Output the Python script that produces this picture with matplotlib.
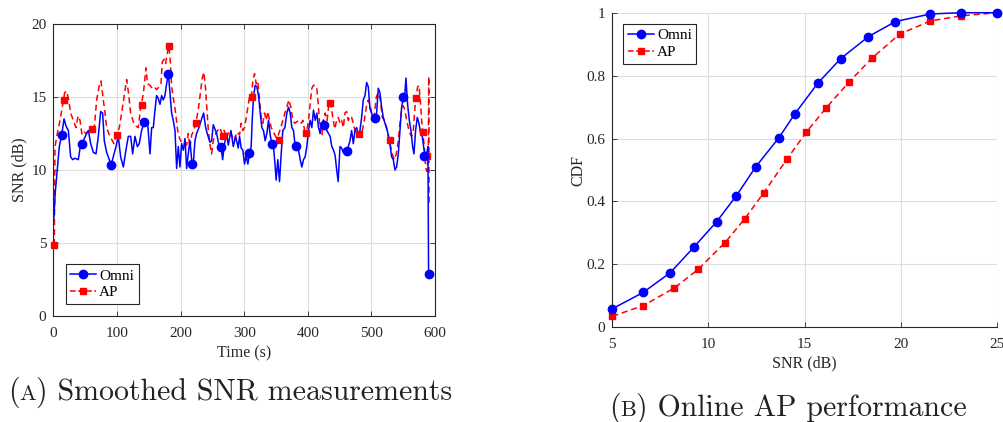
import matplotlib
matplotlib.use("Agg")
import matplotlib.pyplot as plt
from matplotlib.lines import Line2D
from matplotlib.offsetbox import TextArea, HPacker, AnchoredOffsetbox

# ---- (A) smoothed SNR time series ----
omni_t = [0.5, 3, 6, 9.3, 13, 16.7, 19.8, 23.5, 27.1, 30.3, 34, 39.2, 42.9, 47, 51.2, 55, 58.6,
          62.8, 67, 70.6, 74.3, 77.4, 80, 83.7, 87.9, 90.5, 94.2, 98.4, 102, 105.7, 110, 114,
          117.8, 121.5, 124.6, 128.3, 132, 135, 138.7, 143, 148.2, 151.9, 154.5, 157.1, 159.7,
          162.3, 165, 167.6, 170.2, 172.8, 175.4, 178, 180.7, 183.3, 185.9, 188.5, 191.2, 193.8,
          196.4, 199, 201.6, 204.3, 206.9, 209.5, 212.1, 214.7, 217.4, 220, 222.6, 225.2, 228.9,
          233.1, 236.2, 239.4, 242.5, 246.2, 248.8, 251.4, 254, 256.7, 260.3, 263.5, 266.1, 268.7,
          272.4, 275, 279.2, 282.9, 286.5, 290.7, 292.7, 295.3, 297.9, 300.6, 303.2, 305.8, 308.4,
          311, 312.6, 314.7, 317.3, 320, 322.6, 325.2, 327.8, 330.4, 333, 335.7, 338.3, 340.9,
          343.5, 346.2, 348.2, 350.3, 352.9, 355.6, 358.2, 360.8, 364, 367.1, 369.7, 372.4, 375,
          377.6, 380.2, 382.8, 385.5, 388.1, 390.7, 393.3, 395.9, 398.5, 401.2, 403.8, 406.4, 409,
          411.7, 414.3, 416.9, 419.5, 422.1, 424.7, 427.4, 430, 432.6, 435.2, 437.8, 440.5, 443,
          445.5, 447.8, 450.7, 453.3, 455.9, 458.5, 461.1, 463.8, 466.4, 469, 471.6, 474.2, 476.9,
          479.5, 482.1, 484.7, 487.3, 490, 492.6, 495.2, 497.8, 500.4, 503, 505.7, 508.3, 510.9,
          513.5, 516.2, 518.8, 521.4, 524, 526.6, 529.3, 531.9, 534.5, 537.1, 539.7, 542.4, 545,
          547.6, 550.2, 552.8, 554.4, 557, 559.7, 562.3, 564.9, 567, 569.6, 572.2, 574.9, 577.5,
          580.1, 582.2, 584.3, 586.9, 589, 590]
omni_snr = [6.6, 8.5, 10.0, 11.6, 12.4, 13.5, 13.0, 12.7, 10.9, 10.7, 10.8, 10.7, 11.8, 12.0, 12.4,
            12.7, 11.8, 11.2, 11.1, 12.3, 14.0, 13.9, 12.0, 11.2, 10.7, 10.3, 10.9, 11.6, 12.3, 10.9,
            10.2, 11.35, 12.3, 12.3, 11.1, 12.3, 11.6, 11.8, 12.7, 13.3, 13.2, 11.1, 12.9, 12.9, 14.1,
            15.1, 14.9, 14.5, 15.1, 14.8, 15.1, 15.9, 16.6, 15.3, 13.9, 13.4, 12.7, 10.1, 11.6, 10.2,
            11.8, 11.35, 12.15, 10.1, 11.1, 12.0, 10.7, 10.4, 12.0, 12.5, 12.9, 13.5, 13.9, 12.9,
            12.4, 11.9, 12.0, 13.1, 12.8, 12.5, 11.7, 11.6, 10.7, 11.7, 12.5, 11.7, 12.7, 11.6, 12.3,
            11.5, 12.3, 11.5, 11.35, 10.4, 11.0, 10.4, 11.1, 11.6, 13.4, 15.0, 15.8, 15.7, 15.1, 13.9,
            12.9, 12.7, 12.0, 12.5, 13.4, 12.4, 11.8, 11.5, 10.55, 9.3, 10.7, 9.2, 11.1, 12.7, 12.9,
            13.9, 14.3, 13.9, 12.9, 12.7, 11.6, 11.7, 11.35, 10.7, 10.2, 10.7, 10.9, 11.6, 12.7, 13.4,
            12.9, 14.1, 13.4, 13.9, 12.9, 12.5, 13.1, 13.4, 13.2, 12.7, 12.5, 12.3, 11.6, 11.35, 11.0,
            10.0, 9.2, 11.6, 11.5, 11.2, 11.35, 11.2, 11.6, 12.0, 12.7, 11.8, 12.7, 12.9, 12.4, 12.7,
            13.6, 14.8, 15.1, 16.0, 15.7, 14.2, 13.9, 13.4, 13.6, 13.9, 15.6, 15.3, 14.3, 13.6, 13.2,
            12.9, 12.4, 11.8, 10.9, 10.7, 10.0, 10.2, 11.1, 12.7, 14.3, 14.9, 15.3, 16.3, 14.5, 13.4,
            12.7, 11.6, 11.1, 12.7, 13.6, 13.2, 12.5, 12.3, 11.6, 11.0, 11.1, 11.6, 2.86]
omni_mk_t = [13, 44.5, 90, 142.5, 180.7, 218, 263.5, 308, 343.7, 382, 425, 462, 505, 550, 583, 590]
omni_mk_snr = [12.38, 11.76, 10.34, 13.29, 16.58, 10.39, 11.54, 11.14, 11.8, 11.62, 13.1, 11.3,
               13.56, 14.98, 10.96, 2.86]

ap_t = [1.4, 2.5, 6.2, 10.4, 14.6, 17.7, 20.9, 24, 27.1, 31.3, 35.5, 38.7, 41.8, 45, 48.1, 51.2,
        55.4, 60, 64.3, 68, 72.2, 74.8, 77.4, 81.1, 83.7, 87.9, 91.6, 95.2, 99.4, 103.6, 107.3, 111,
        115.2, 118.3, 121.5, 125.6, 129.8, 133.5, 137.2, 141.4, 145.5, 148, 151.9, 155.5, 158.7,
        162.3, 166, 169.2, 171.2, 174.4, 176.5, 179.6, 181.7, 183.8, 185.9, 189.1, 192.2, 195.4,
        198.5, 201.6, 205.8, 209.5, 212.1, 214.7, 217.4, 221, 224.2, 227.8, 231, 234.1, 236.7,
        239.4, 241.5, 243.6, 246.7, 248.8, 251.4, 254, 258.2, 261.9, 265.6, 268.7, 272.4, 276,
        280.2, 284.4, 288.6, 292.7, 295.3, 297.9, 300.6, 303.2, 305.8, 308.4, 311, 313.7, 316.3,
        318.9, 321.5, 324.1, 326.8, 329.4, 332, 334.6, 337.2, 339.9, 342.5, 345.1, 348.2, 351.4,
        354.5, 357.7, 360.8, 364, 367.1, 370.3, 373.4, 376.5, 379.7, 382.8, 385.9, 389.6, 392.3,
        395.4, 398.5, 401.2, 403.8, 406.4, 409, 411.7, 414.3, 416.9, 419.5, 422.1, 424.7, 427.4,
        430.5, 433.1, 435.7, 439.4, 442.5, 445.4, 448, 450.7, 453.3, 455.9, 458.5, 461.1, 463.8,
        466.4, 469, 471.6, 474.2, 476.9, 479.5, 482.6, 485.8, 489, 492, 495.2, 498.3, 501.5, 504.6,
        507.8, 510.9, 514.1, 517.2, 520.4, 523.5, 526.6, 529.8, 532.9, 536.1, 539.2, 542.4, 545.5,
        547.6, 550.2, 552.8, 555.5, 558.1, 560.7, 563.3, 566, 568.6, 570.7, 572.8, 574.9, 577,
        579.1, 581.1, 583.2, 585.3, 587.4, 589.5, 590.3, 590.8]
ap_snr = [4.84, 11.6, 12.5, 13.4, 14.5, 15.3, 15.4, 14.8, 13.9, 13.4, 12.9, 13.7, 13.4, 12.4, 12.6,
          12.5, 12.7, 12.8, 12.9, 14.8, 15.8, 16.1, 15.2, 13.9, 12.9, 12.4, 12.1, 11.8, 12.4, 12.9,
          13.9, 15.0, 16.2, 15.2, 13.9, 13.3, 13.0, 12.9, 14.3, 15.2, 17.0, 15.9, 15.8, 15.6, 15.7,
          15.5, 15.7, 15.9, 17.4, 17.6, 17.3, 18.1, 18.5, 17.5, 15.7, 14.8, 13.9, 12.7, 12.15, 11.9,
          11.9, 11.7, 12.5, 11.5, 12.4, 12.7, 13.3, 14.1, 15.2, 16.3, 16.7, 15.5, 14.1, 12.7, 11.6,
          11.1, 12.0, 12.4, 12.7, 12.9, 12.4, 12.7, 12.15, 12.7, 12.4, 12.0, 12.6, 12.4, 13.2, 12.7,
          12.9, 13.6, 14.3, 15.0, 14.9, 16.1, 16.6, 15.9, 16.1, 14.8, 13.6, 13.2, 13.9, 13.4, 14.0,
          13.4, 12.9, 12.7, 12.4, 12.15, 12.5, 12.9, 13.4, 13.9, 14.3, 14.8, 14.3, 13.4, 13.2, 13.3,
          13.4, 13.2, 13.4, 12.6, 12.7, 13.4, 14.5, 15.6, 15.8, 15.8, 15.6, 14.3, 12.5, 12.3, 13.4,
          13.9, 13.4, 14.5, 14.7, 13.6, 12.8, 13.4, 13.6, 13.2, 13.4, 12.9, 13.9, 14.0, 13.4, 13.7,
          13.6, 13.2, 12.7, 12.4, 12.5, 12.3, 12.7, 13.4, 14.3, 14.8, 14.4, 13.6, 13.7, 15.0, 15.3,
          14.8, 13.6, 13.4, 12.9, 12.3, 11.7, 11.1, 10.7, 11.1, 12.0, 13.4, 14.1, 14.4, 14.1, 13.4,
          12.9, 12.5, 12.3, 12.7, 14.3, 15.1, 15.7, 15.8, 14.8, 13.4, 12.5, 11.6, 10.2, 9.9, 11.0,
          16.4, 7.5]
ap_mk_t = [1.4, 17.2, 61.2, 99.5, 139.3, 182.3, 224.7, 266, 311.7, 354, 397, 435.4, 480.5, 529,
           569.5, 581, 587]
ap_mk_snr = [4.84, 14.82, 12.79, 12.42, 14.43, 18.47, 13.24, 12.31, 15.0, 12.06, 12.56, 14.57,
             12.47, 12.06, 14.96, 12.58, 10.96]

# ---- (B) CDF of SNR ----
cdf_omni_x = [5.0, 6.61, 8.02, 9.23, 10.43, 11.45, 12.46, 13.67, 14.49, 15.69, 16.88, 18.32,
              19.73, 21.55, 23.16, 25.0]
cdf_omni_y = [0.059, 0.111, 0.174, 0.254, 0.336, 0.418, 0.510, 0.603, 0.678, 0.776, 0.854, 0.924,
              0.972, 0.996, 1.0, 1.0]
cdf_ap_x = [5.0, 6.61, 8.23, 9.46, 10.86, 11.89, 12.88, 14.09, 15.10, 16.12, 17.32, 18.53, 19.95,
            21.55, 23.16, 25.0]
cdf_ap_y = [0.035, 0.069, 0.125, 0.184, 0.269, 0.345, 0.428, 0.535, 0.621, 0.697, 0.780, 0.857,
            0.932, 0.974, 0.990, 1.0]

plt.rcParams["font.family"] = ["Liberation Serif", "DejaVu Serif"]

AXC = "#262626"
GRIDC = "#dedede"
BLUE = "#0000ff"
RED = "#ff0000"


def style_axes(ax, box):
    ax.grid(True, color=GRIDC, linewidth=0.8)
    ax.set_axisbelow(True)
    for side in ["left", "bottom", "top", "right"]:
        ax.spines[side].set_color(AXC)
        ax.spines[side].set_linewidth(0.8)
    if not box:
        ax.spines["top"].set_visible(False)
        ax.spines["right"].set_visible(False)
    ax.tick_params(direction="in", length=3.5, width=0.6, color=AXC, labelsize=11,
                   labelcolor=AXC, top=box, right=box)
    ax.tick_params(axis="x", pad=8)
    ax.tick_params(axis="y", pad=5)


def legend_handles():
    return [
        Line2D([], [], color=BLUE, linestyle="-", linewidth=1.1, marker="o", markersize=6),
        Line2D([], [], color=RED, linestyle="--", linewidth=1.1, marker="s", markersize=5),
    ]


fig = plt.figure(figsize=(10.04, 4.22), dpi=100)
ax1 = fig.add_axes([0.0532, 0.2519, 0.380, 0.691])
ax2 = fig.add_axes([0.6099, 0.2244, 0.3829, 0.7455])

# left panel
ax1.plot(ap_t, ap_snr, color=RED, linestyle=(0, (4, 2.5)), linewidth=1.1, zorder=2)
ax1.plot(omni_t, omni_snr, color=BLUE, linestyle="-", linewidth=1.1, zorder=3)
ax1.plot(ap_mk_t, ap_mk_snr, linestyle="none", marker="s", markersize=5, color=RED,
         zorder=4, clip_on=False)
ax1.plot(omni_mk_t, omni_mk_snr, linestyle="none", marker="o", markersize=6, color=BLUE,
         zorder=5, clip_on=False)
ax1.set_xlim(0, 600)
ax1.set_ylim(0, 20)
ax1.set_xticks([0, 100, 200, 300, 400, 500, 600])
ax1.set_yticks([0, 5, 10, 15, 20])
ax1.set_xlabel("Time (s)", fontsize=11.5, color=AXC, labelpad=4)
ax1.set_ylabel("SNR (dB)", fontsize=11.5, color=AXC, labelpad=3)
style_axes(ax1, box=True)
leg1 = ax1.legend(legend_handles(), ["Omni", "AP"], loc="lower left",
                  bbox_to_anchor=(0.032, 0.04), borderaxespad=0, fontsize=11,
                  fancybox=False, edgecolor=AXC, framealpha=1, handlelength=1.7,
                  handletextpad=0.2, borderpad=0.3, labelspacing=0.2)
leg1.get_frame().set_linewidth(0.8)

# right panel
ax2.plot(cdf_ap_x, cdf_ap_y, color=RED, linestyle=(0, (4, 2.5)), linewidth=1.1, marker="s",
         markersize=5, zorder=3, clip_on=False)
ax2.plot(cdf_omni_x, cdf_omni_y, color=BLUE, linestyle="-", linewidth=1.1, marker="o",
         markersize=6, zorder=4, clip_on=False)
ax2.set_xlim(5, 25)
ax2.set_ylim(0, 1)
ax2.set_xticks([5, 10, 15, 20, 25])
ax2.set_yticks([0, 0.2, 0.4, 0.6, 0.8, 1])
ax2.set_yticklabels(["0", "0.2", "0.4", "0.6", "0.8", "1"])
ax2.set_xlabel("SNR (dB)", fontsize=11.5, color=AXC, labelpad=3)
ax2.set_ylabel("CDF", fontsize=11.5, color=AXC, labelpad=0)
style_axes(ax2, box=False)
leg2 = ax2.legend(legend_handles(), ["Omni", "AP"], loc="upper left",
                  bbox_to_anchor=(0.0286, 0.964), borderaxespad=0, fontsize=11,
                  fancybox=False, edgecolor=AXC, framealpha=1, handlelength=1.7,
                  handletextpad=0.2, borderpad=0.3, labelspacing=0.2)
leg2.get_frame().set_linewidth(0.8)


def caption(label, rest, x, y):
    big = dict(fontsize=21.5, family="cmr10", color="#222222")
    small = dict(fontsize=16, family="cmr10", color="#222222")
    parts = [TextArea("(", textprops=big), TextArea(label, textprops=small),
             TextArea(") " + rest, textprops=big)]
    box = HPacker(children=parts, align="baseline", pad=0, sep=0)
    anchored = AnchoredOffsetbox(loc="center", child=box, bbox_to_anchor=(x, y),
                                 bbox_transform=fig.transFigure, frameon=False,
                                 pad=0, borderpad=0)
    fig.add_artist(anchored)


caption("A", "Smoothed SNR measurements", 230 / 1004, 1 - 392 / 422)
caption("B", "Online AP performance", 788 / 1004, 1 - 408 / 422)

fig.savefig("out.png", dpi=100)
